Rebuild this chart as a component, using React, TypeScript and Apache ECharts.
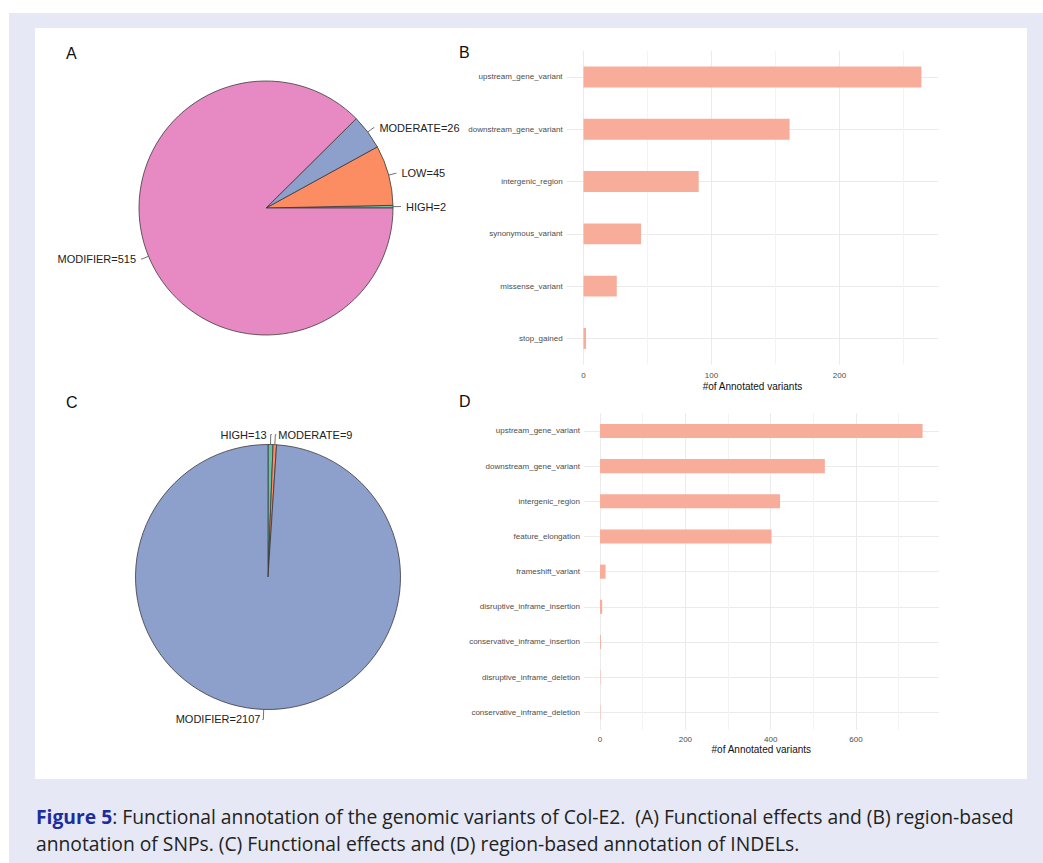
import React, { useEffect, useRef } from "react";
import * as echarts from "echarts";

// ---- Data ----
const pieALabels = ["HIGH", "LOW", "MODERATE", "MODIFIER"];
const pieAValues = [2, 45, 26, 515];
const pieAColors = ["#66c2a5", "#fc8d62", "#8da0cb", "#e78ac3"];

const pieCLabels = ["HIGH", "MODERATE", "MODIFIER"];
const pieCValues = [13, 9, 2107];
const pieCColors = ["#66c2a5", "#fc8d62", "#8da0cb"];

const snpCategories = [
  "upstream_gene_variant",
  "downstream_gene_variant",
  "intergenic_region",
  "synonymous_variant",
  "missense_variant",
  "stop_gained",
];
const snpCounts = [264, 161, 90, 45, 26, 2];
const snpTickLabels = [0, 100, 200];
const snpGridValues = [0, 50, 100, 150, 200, 250];

const indelCategories = [
  "upstream_gene_variant",
  "downstream_gene_variant",
  "intergenic_region",
  "feature_elongation",
  "frameshift_variant",
  "disruptive_inframe_insertion",
  "conservative_inframe_insertion",
  "disruptive_inframe_deletion",
  "conservative_inframe_deletion",
];
const indelCounts = [756, 527, 422, 402, 13, 5, 2, 1, 1];
const indelTickLabels = [0, 200, 400, 600];
const indelGridValues = [0, 100, 200, 300, 400, 500, 600, 700];

const axisTitle = "#of Annotated variants";
const captionLine1 =
  "{b|Figure 5}: Functional annotation of the genomic variants of Col-E2.  (A) Functional effects and (B) region-based";
const captionLine2 =
  "annotation of SNPs. (C) Functional effects and (D) region-based annotation of INDELs.";

const FONT = "Liberation Sans, Arial, Helvetica, sans-serif";
const BAR_COLOR = "#f7ad9a";
const CAPTION_SIZE = 19.3;

function pieSeries(
  labels: string[], values: number[], colors: string[], center: number[], radius: number,
  startAngle: number, clockwise: boolean, fixHighLeft: boolean, lineLen: number, labelGap: number
) {
  return {
    type: "pie",
    center,
    radius,
    startAngle,
    clockwise,
    avoidLabelOverlap: false,
    silent: true,
    itemStyle: { borderColor: "#3a3a3a", borderWidth: 0.8 },
    label: {
      show: true,
      position: "outside",
      formatter: (p: any) => `${p.name}=${p.value}`,
      fontSize: 11,
      fontFamily: FONT,
      color: "#222",
      distanceToLabelLine: labelGap,
    },
    labelLine: {
      show: true,
      length: lineLen,
      length2: 1,
      minTurnAngle: 0,
      lineStyle: { color: "#333", width: 0.7 },
    },
    labelLayout: fixHighLeft
      ? (params: any) => {
          if (params.dataIndex === 0) {
            const r = params.labelRect;
            return {
              x: r.x - 7,
              y: r.y + r.height / 2,
              align: "right",
              verticalAlign: "middle",
              labelLinePoints: params.labelLinePoints,
            };
          }
          return {};
        }
      : undefined,
    data: labels.map((n, i) => ({ name: n, value: values[i], itemStyle: { color: colors[i] } })),
  };
}

function valueAxis(gridIndex: number, min: number, max: number, labels: number[], grid: number[], margin: number, nameGap: number) {
  return {
    gridIndex,
    type: "value",
    min,
    max,
    axisLine: { show: false },
    axisTick: { show: false, customValues: grid },
    axisLabel: { customValues: labels, fontSize: 8, color: "#4d4d4d", margin, fontFamily: FONT },
    splitLine: { show: true, lineStyle: { color: ["#ebebeb", "#f4f4f4"], width: 1 } },
    name: axisTitle,
    nameLocation: "middle",
    nameGap,
    nameTextStyle: { fontSize: 10, color: "#111", fontFamily: FONT },
  };
}

function catAxis(gridIndex: number, data: string[]) {
  return {
    gridIndex,
    type: "category",
    data,
    inverse: true,
    axisLine: { show: false },
    axisTick: { show: false },
    axisLabel: { fontSize: 8, color: "#4d4d4d", margin: 4, fontFamily: FONT },
    splitLine: { show: true, alignWithLabel: true, lineStyle: { color: "#ebebeb", width: 1 } },
  };
}

export default function App() {
  const ref = useRef<HTMLDivElement>(null);
  useEffect(() => {
    if (!ref.current) return;
    const chart = echarts.init(ref.current, null, { renderer: "svg" });
    const option: any = {
      animation: false,
      backgroundColor: "#ffffff",
      graphic: [
        { type: "rect", z: -10, silent: true, shape: { x: 9, y: 13, width: 1034, height: 850 }, style: { fill: "#e6e9f5" } },
        { type: "rect", z: -9, silent: true, shape: { x: 35, y: 28, width: 992, height: 751 }, style: { fill: "#ffffff" } },
        { type: "text", x: 66, y: 53, style: { text: "A", fontSize: 16, fontFamily: FONT, fill: "#111", verticalAlign: "middle" } },
        { type: "text", x: 459, y: 52, style: { text: "B", fontSize: 16, fontFamily: FONT, fill: "#111", verticalAlign: "middle" } },
        { type: "text", x: 66, y: 402, style: { text: "C", fontSize: 16, fontFamily: FONT, fill: "#111", verticalAlign: "middle" } },
        { type: "text", x: 459, y: 401, style: { text: "D", fontSize: 16, fontFamily: FONT, fill: "#111", verticalAlign: "middle" } },
        {
          type: "text", x: 36, y: 816,
          style: {
            text: captionLine1, fontSize: CAPTION_SIZE, fontFamily: "Open Sans", fill: "#222", verticalAlign: "middle",
            rich: { b: { fontSize: CAPTION_SIZE, fontFamily: "Open Sans", fontWeight: "bold", fill: "#1d2c9e" } },
          },
        },
        {
          type: "text", x: 36, y: 843,
          style: { text: captionLine2, fontSize: CAPTION_SIZE, fontFamily: "Open Sans", fill: "#222", verticalAlign: "middle" },
        },
      ],
      grid: [
        { left: 566.6, top: 50.8, width: 371.7, height: 313.8 },
        { left: 583.9, top: 413.4, width: 354.8, height: 316.5 },
      ],
      xAxis: [
        valueAxis(0, -13.2, 277.2, snpTickLabels, snpGridValues, 7, 17),
        valueAxis(1, -37.8, 793.8, indelTickLabels, indelGridValues, 6, 15),
      ],
      yAxis: [catAxis(0, snpCategories), catAxis(1, indelCategories)],
      series: [
        pieSeries(pieALabels, pieAValues, pieAColors, [266, 208], 127, 0, false, false, 7, 5),
        pieSeries(pieCLabels, pieCValues, pieCColors, [268, 577], 132.5, 90, true, true, 10, 2),
        { type: "bar", xAxisIndex: 0, yAxisIndex: 0, data: snpCounts, barWidth: "40%", silent: true, itemStyle: { color: BAR_COLOR } },
        { type: "bar", xAxisIndex: 1, yAxisIndex: 1, data: indelCounts, barWidth: "40%", silent: true, itemStyle: { color: BAR_COLOR } },
      ],
    };
    chart.setOption(option);
    return () => chart.dispose();
  }, []);
  return <div ref={ref} style={{ position: "fixed", left: 0, top: 0, width: 1043, height: 863 }} />;
}
